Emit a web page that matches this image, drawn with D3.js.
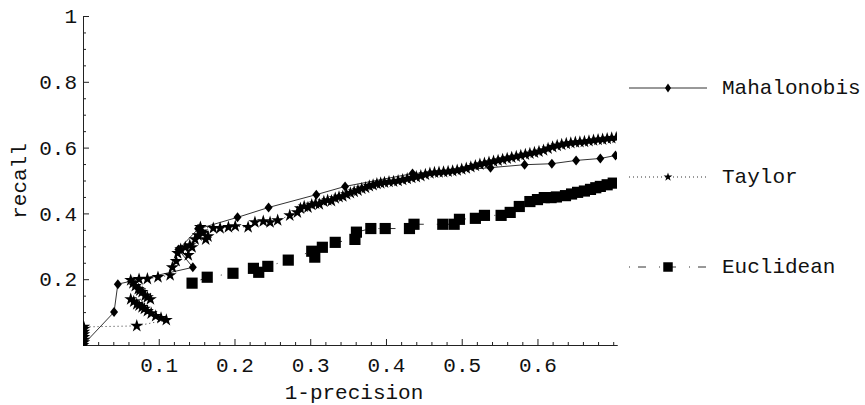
<!DOCTYPE html>
<html><head><meta charset="utf-8">
<script src="https://cdn.jsdelivr.net/npm/d3@7"></script>
<style>
body{margin:0;background:#fff;}
svg text{font-family:"Courier New","Liberation Mono",monospace;fill:#111;}
</style></head>
<body><svg id="c" width="865" height="405"></svg>
<script>
// ---- data ----
const seriesNames = ["Mahalonobis", "Taylor", "Euclidean"];
const mahalonobis = [[0,0],[0.041,0.10],[0.046,0.185],[0.145,0.236],[0.126,0.29],[0.152,0.353],[0.204,0.388],[0.245,0.418],[0.308,0.457],[0.346,0.482],[0.435,0.521],[0.538,0.539],[0.583,0.548],[0.619,0.551],[0.651,0.561],[0.683,0.567],[0.703,0.576]];
const taylor = [[0,0],[0.001,0.008],[0.001,0.016],[0.001,0.024],[0.001,0.032],[0.001,0.040],[0.001,0.048],[0.001,0.055],
[0.071,0.058],
[0.110,0.076],[0.103,0.082],[0.096,0.088],[0.090,0.096],[0.085,0.103],[0.081,0.110],[0.078,0.115],[0.074,0.120],[0.071,0.124],[0.067,0.132],[0.063,0.139],
[0.089,0.139],[0.085,0.145],[0.082,0.150],[0.078,0.161],[0.075,0.166],[0.073,0.170],[0.069,0.179],[0.066,0.188],[0.063,0.197],
[0.074,0.200],[0.085,0.201],[0.099,0.206],[0.115,0.212],[0.118,0.236],[0.123,0.255],[0.125,0.279],[0.129,0.291],[0.139,0.273],[0.135,0.297],[0.141,0.303],[0.144,0.297],[0.148,0.321],[0.152,0.333],[0.157,0.345],[0.162,0.321],[0.158,0.340],[0.165,0.330],[0.155,0.358],[0.172,0.355],[0.181,0.355],[0.192,0.358],[0.201,0.361],[0.218,0.358],[0.227,0.373],[0.238,0.376],[0.247,0.373],[0.257,0.379],[0.273,0.394],[0.283,0.403],
[0.287,0.415],[0.292,0.421],[0.297,0.418],[0.302,0.426],[0.307,0.430],[0.312,0.428],[0.318,0.436],[0.323,0.440],[0.328,0.438],[0.333,0.446],[0.338,0.450],[0.343,0.452],[0.348,0.458],[0.353,0.462],[0.358,0.466],[0.363,0.470],[0.368,0.475],[0.373,0.478],[0.378,0.483],[0.383,0.486],[0.388,0.490],[0.393,0.492],[0.398,0.494],[0.404,0.496],[0.410,0.497],[0.416,0.499],[0.422,0.502],[0.428,0.505],[0.434,0.508],[0.440,0.511],[0.446,0.514],[0.452,0.518],[0.458,0.522],[0.464,0.524],[0.470,0.525],[0.476,0.526],[0.482,0.527],[0.488,0.529],[0.494,0.531],[0.500,0.534],[0.506,0.537],[0.512,0.541],[0.518,0.545],[0.524,0.549],[0.530,0.552],[0.536,0.555],[0.542,0.558],[0.548,0.561],[0.554,0.564],[0.560,0.567],[0.566,0.570],[0.572,0.573],[0.578,0.576],[0.584,0.579],[0.590,0.582],[0.596,0.585],[0.602,0.588],[0.608,0.592],[0.614,0.597],[0.620,0.602],[0.626,0.606],[0.632,0.609],[0.638,0.612],[0.644,0.614],[0.650,0.616],[0.656,0.617],[0.662,0.618],[0.668,0.620],[0.674,0.622],[0.680,0.624],[0.686,0.625],[0.692,0.627],[0.698,0.629],[0.704,0.630]];
const euclidean = [[0.144,0.188],[0.164,0.206],[0.198,0.218],[0.225,0.233],[0.232,0.221],[0.244,0.239],[0.271,0.258],[0.302,0.285],[0.306,0.267],[0.316,0.297],[0.333,0.312],[0.359,0.321],[0.361,0.343],[0.380,0.354],[0.399,0.354],[0.431,0.354],[0.437,0.367],[0.475,0.367],[0.490,0.367],[0.497,0.382],[0.518,0.385],[0.530,0.394],[0.552,0.394],[0.564,0.403],[0.576,0.421],[0.590,0.436],[0.600,0.442],[0.609,0.448],[0.618,0.448],[0.625,0.450],[0.637,0.454],[0.645,0.459],[0.653,0.464],[0.662,0.468],[0.670,0.473],[0.677,0.478],[0.683,0.482],[0.692,0.487],[0.700,0.492]];
const xTicks = [0.1,0.2,0.3,0.4,0.5,0.6];
const xTickLabels = ["0.1","0.2","0.3","0.4","0.5","0.6"];
const yTicks = [0.2,0.4,0.6,0.8,1];
const yTickLabels = ["0.2","0.4","0.6","0.8","1"];
const xMinorTicks = d3.range(1,36).map(i=>+(i*0.02).toFixed(2)).filter(v=>!xTicks.some(t=>Math.abs(t-v)<1e-9));
const yMinorTicks = d3.range(1,20).map(i=>+(i*0.05).toFixed(2)).filter(v=>!yTicks.some(t=>Math.abs(t-v)<1e-9));
const xLabel = "1-precision", yLabel = "recall";

// ---- layout ----
const svg = d3.select("#c");
const x = d3.scaleLinear().domain([0,0.705]).range([83,617]);
const y = d3.scaleLinear().domain([0,1]).range([345,16]);
const FS = 21;

svg.append("defs").append("clipPath").attr("id","plot")
  .append("rect").attr("x",83).attr("y",10).attr("width",534).attr("height",336);

// axes
const gx = svg.append("g").attr("transform","translate(0,345)");
gx.call(d3.axisBottom(x).tickValues(xMinorTicks).tickSize(-3).tickSizeOuter(0).tickFormat(""));
const gx2 = svg.append("g").attr("transform","translate(0,345)");
gx2.call(d3.axisBottom(x).tickValues(xTicks).tickSize(-6).tickSizeOuter(0).tickPadding(12)
  .tickFormat((d,i)=>xTickLabels[i]));
const gy = svg.append("g").attr("transform","translate(83,0)");
gy.call(d3.axisLeft(y).tickValues(yMinorTicks).tickSize(-3).tickSizeOuter(0).tickFormat(""));
const gy2 = svg.append("g").attr("transform","translate(83,0)");
gy2.call(d3.axisLeft(y).tickValues(yTicks).tickSize(-6).tickSizeOuter(0).tickPadding(6)
  .tickFormat((d,i)=>yTickLabels[i]));
svg.selectAll(".domain").attr("stroke","#222").attr("stroke-width",1);
svg.selectAll(".tick line").attr("stroke","#222");
svg.selectAll(".tick text").attr("font-size",FS).attr("font-family",'"Courier New","Liberation Mono",monospace').attr("fill","#111");

svg.append("text").attr("x",354).attr("y",399).attr("text-anchor","middle").attr("font-size",FS).text(xLabel);
svg.append("text").attr("transform","translate(26,181) rotate(-90)").attr("text-anchor","middle").attr("font-size",FS).text(yLabel);

// markers
const diamondPath = (w,h)=>`M0,${-h/2}L${w/2},0L0,${h/2}L${-w/2},0Z`;
const starSym = d3.symbol().type(d3.symbolStar).size(52)();
const sqSym = d3.symbol().type(d3.symbolSquare).size(125)();
const line = d3.line().x(d=>x(d[0])).y(d=>y(d[1]));

const plot = svg.append("g").attr("clip-path","url(#plot)");
const styles = [
  {data:mahalonobis, dash:null, mark:diamondPath(8,10)},
  {data:taylor, dash:"1,3", mark:starSym},
  {data:euclidean, dash:"1,8,8,13", mark:sqSym}
];
styles.forEach(s=>{
  plot.append("path").datum(s.data).attr("d",line).attr("fill","none")
    .attr("stroke","#333").attr("stroke-width",1).attr("stroke-dasharray",s.dash);
});
styles.forEach(s=>{
  plot.append("g").selectAll("path").data(s.data).join("path")
    .attr("transform",d=>`translate(${x(d[0])},${y(d[1])})`)
    .attr("d",s.mark).attr("fill","#000");
});

// legend
const legY = [88,177,267];
const legMarks = [diamondPath(6,9), d3.symbol().type(d3.symbolStar).size(24)(), d3.symbol().type(d3.symbolSquare).size(90)()];
seriesNames.forEach((n,i)=>{
  const g = svg.append("g").attr("transform",`translate(0,${legY[i]})`);
  g.append("line").attr("x1",629).attr("x2",707).attr("stroke","#333").attr("stroke-width",1)
    .attr("stroke-dasharray",styles[i].dash);
  g.append("path").attr("transform","translate(668,0)").attr("d",legMarks[i]).attr("fill","#000");
  g.append("text").attr("x",722).attr("y",6).attr("font-size",FS).text(n);
});
</script></body></html>
